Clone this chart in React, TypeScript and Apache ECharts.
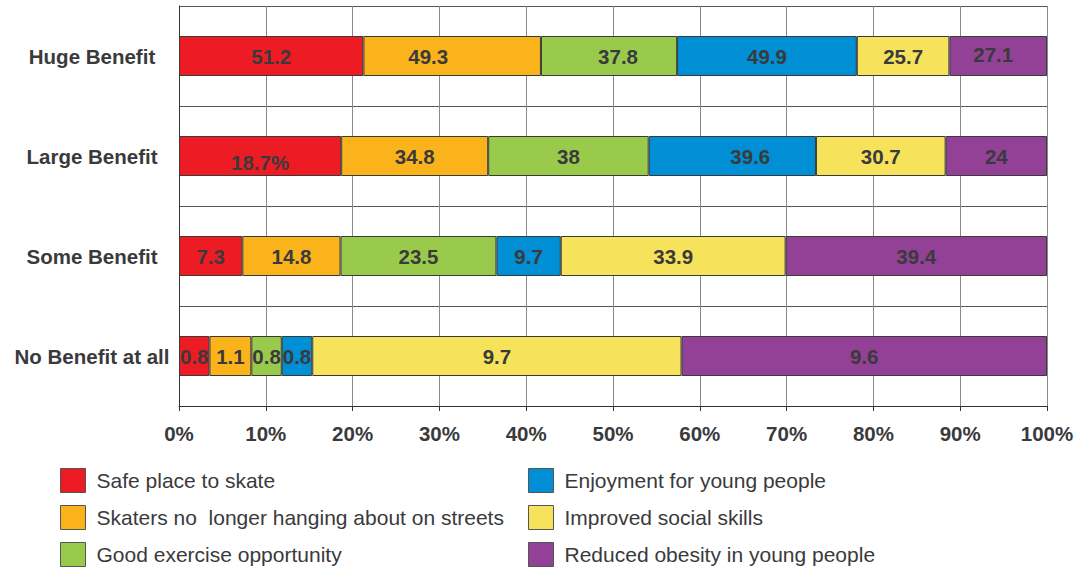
import React, { useEffect, useRef } from "react";
import * as echarts from "echarts";

// Categories, top to bottom
const categories = ["Huge Benefit", "Large Benefit", "Some Benefit", "No Benefit at all"];

// Series names
const seriesNames = [
  "Safe place to skate",
  "Skaters no  longer hanging about on streets",
  "Good exercise opportunity",
  "Enjoyment for young people",
  "Improved social skills",
  "Reduced obesity in young people",
];

// Raw values (bar lengths are each value's share of its row total, as drawn)
const safePlace = [51.2, 38.4, 9.55, 0.8];
const skatersOffStreets = [49.3, 34.8, 14.8, 1.1];
const goodExercise = [37.8, 38, 23.5, 0.8];
const enjoyment = [49.9, 39.6, 9.7, 0.8];
const socialSkills = [25.7, 30.7, 33.9, 9.7];
const reducedObesity = [27.1, 24, 39.4, 9.6];

// Printed labels on the bars
const safePlaceLabels = ["51.2", "18.7%", "7.3", "0.8"];
const skatersOffStreetsLabels = ["49.3", "34.8", "14.8", "1.1"];
const goodExerciseLabels = ["37.8", "38", "23.5", "0.8"];
const enjoymentLabels = ["49.9", "39.6", "9.7", "0.8"];
const socialSkillsLabels = ["25.7", "30.7", "33.9", "9.7"];
const reducedObesityLabels = ["27.1", "24", "39.4", "9.6"];

// Axis ticks
const xTicks = [0, 10, 20, 30, 40, 50, 60, 70, 80, 90, 100];

const colors = ["#ED1C24", "#FAB31B", "#9ACA4C", "#008FD5", "#F7E35B", "#934196"];

// label nudges [seriesIndex][categoryIndex] -> [dx, dy]
const labelNudges: Record<string, [number, number]> = {
  "1-0": [-24, 0],
  "2-0": [9, 0],
  "5-0": [-5, -2],
  "0-1": [0, 6],
  "3-1": [18, 0],
};

const FONT = "'Liberation Sans', Arial, Helvetica, sans-serif";
const TEXT = "#3a3a3c";

export default function App() {
  const ref = useRef<HTMLDivElement>(null);

  useEffect(() => {
    if (!ref.current) return;
    const chart = echarts.init(ref.current, null, { renderer: "svg" });

    const values = [safePlace, skatersOffStreets, goodExercise, enjoyment, socialSkills, reducedObesity];
    const labels = [
      safePlaceLabels,
      skatersOffStreetsLabels,
      goodExerciseLabels,
      enjoymentLabels,
      socialSkillsLabels,
      reducedObesityLabels,
    ];
    const totals = categories.map((_, ci) => values.reduce((s, arr) => s + arr[ci], 0));

    const series = values.map((arr, si) => ({
      name: seriesNames[si],
      type: "bar" as const,
      stack: "total",
      barWidth: "40%",
      itemStyle: { color: colors[si], borderColor: "#3a3a3a", borderWidth: 1 },
      label: {
        show: true,
        position: "inside" as const,
        color: TEXT,
        fontFamily: FONT,
        fontWeight: "bold" as const,
        fontSize: 20.5,
        formatter: (p: any) => labels[si][p.dataIndex],
      },
      data: arr.map((v, ci) => {
        const nudge = labelNudges[`${si}-${ci}`];
        const item: any = { value: (v / totals[ci]) * 100 };
        if (nudge) item.label = { offset: nudge };
        return item;
      }),
    }));

    const legendCommon = {
      orient: "vertical" as const,
      padding: 0,
      height: 100,
      itemWidth: 25,
      itemHeight: 24,
      itemGap: 12,
      icon: "rect",
      itemStyle: { borderColor: "#555", borderWidth: 1 },
      textStyle: {
        fontFamily: FONT,
        fontSize: 21,
        color: TEXT,
        padding: [0, 0, 0, 6],
      },
    };

    chart.setOption({
      animation: false,
      backgroundColor: "#ffffff",
      color: colors,
      legend: [
        { ...legendCommon, left: 60, top: 468, data: seriesNames.slice(0, 3) },
        { ...legendCommon, left: 528, top: 468, data: seriesNames.slice(3, 6) },
      ],
      grid: { left: 179, right: 35, top: 6, bottom: 163, containLabel: false },
      xAxis: {
        type: "value",
        min: xTicks[0],
        max: xTicks[xTicks.length - 1],
        interval: xTicks[1] - xTicks[0],
        axisLine: { show: true, lineStyle: { color: "#333", width: 1 } },
        axisTick: { show: true, length: 5, lineStyle: { color: "#333" } },
        splitLine: { show: true, lineStyle: { color: "#8a8a8a", width: 1 } },
        axisLabel: {
          formatter: "{value}%",
          margin: 17,
          color: TEXT,
          fontFamily: FONT,
          fontWeight: "bold",
          fontSize: 20.5,
        },
      },
      yAxis: {
        type: "category",
        inverse: true,
        data: categories,
        axisLine: { show: true, lineStyle: { color: "#333", width: 1 } },
        axisTick: { show: false },
        splitLine: { show: true, lineStyle: { color: "#555", width: 1 } },
        axisLabel: {
          align: "center",
          margin: 87,
          color: TEXT,
          fontFamily: FONT,
          fontWeight: "bold",
          fontSize: 20.5,
        },
      },
      series,
    });

    return () => chart.dispose();
  }, []);

  return (
    <div
      ref={ref}
      style={{ position: "fixed", left: 0, top: 0, width: 1082, height: 569, background: "#fff" }}
    />
  );
}
